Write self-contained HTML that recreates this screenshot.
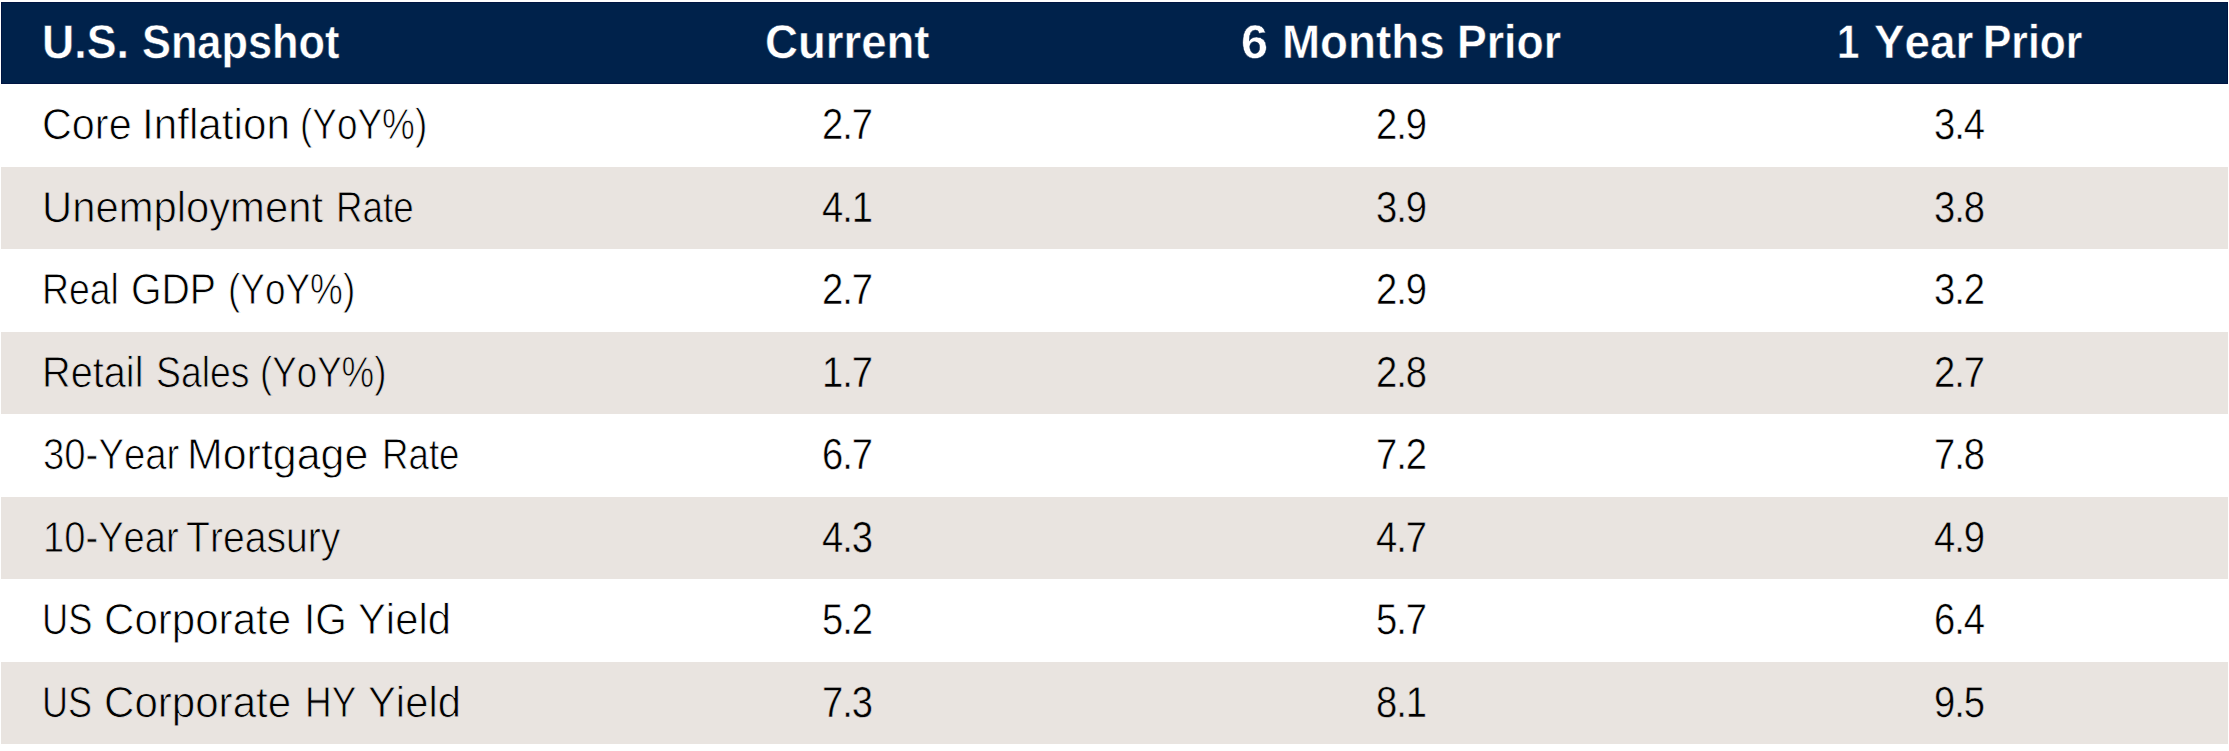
<!DOCTYPE html>
<html lang="en">
<head>
<meta charset="utf-8">
<title>U.S. Snapshot</title>
<style>
html,body{margin:0;padding:0;background:#fff;}
body{width:2229px;height:751px;overflow:hidden;position:relative;
  font-family:"Liberation Sans",sans-serif;font-kerning:none;font-variant-ligatures:none;
  text-rendering:geometricPrecision;}
.tbl{position:absolute;left:1px;top:0;width:2227px;height:751px;}
.row{position:absolute;left:0;width:2227px;}
.head{background:#00224b;box-shadow:inset 0 0 0 1px #001542;color:#fff;font-weight:700;font-size:47.4px;-webkit-text-stroke:0.5px #00224b;}
.odd{background:#fff;color:#000;font-size:43.3px;-webkit-text-stroke:0.8px #fff;}
.even{background:#e9e4e0;color:#000;font-size:43.3px;-webkit-text-stroke:0.8px #e9e4e0;}
.w{position:absolute;top:11px;white-space:nowrap;line-height:60px;height:60px;transform-origin:0 50%;}
.n{font-size:43.3px;letter-spacing:-1.2px;transform:scaleX(0.882);-webkit-text-stroke-width:0.5px;}
</style>
</head>
<body>
<div class="tbl" role="table" aria-label="U.S. Snapshot">
<div class="row head" role="row" style="top:2px;height:82px">
  <div role="columnheader"><span class="w" style="left:40.92px;transform:scaleX(0.942)">U.S.</span> <span class="w" style="left:141.05px;transform:scaleX(0.914)">Snapshot</span></div>
  <div role="columnheader"><span class="w" style="left:763.83px;transform:scaleX(0.961)">Current</span></div>
  <div role="columnheader"><span class="w" style="left:1239.92px;transform:scaleX(1.026)">6</span> <span class="w" style="left:1280.64px;transform:scaleX(0.965)">Months</span> <span class="w" style="left:1456.12px;transform:scaleX(0.940)">Prior</span></div>
  <div role="columnheader"><span class="w" style="left:1835.79px;transform:scaleX(0.850)">1</span> <span class="w" style="left:1872.62px;transform:scaleX(0.966)">Year</span> <span class="w" style="left:1982.15px;transform:scaleX(0.897)">Prior</span></div>
</div>
<div class="row odd" role="row" style="top:84px;height:83px">
  <div role="rowheader"><span class="w" style="left:40.65px;transform:scaleX(0.955)">Core</span> <span class="w" style="left:140.85px;transform:scaleX(0.975)">Inflation</span> <span class="w" style="left:298.96px;transform:scaleX(0.853)">(YoY%)</span></div>
  <div role="cell"><span class="w n" style="left:821.11px">2.7</span></div>
  <div role="cell"><span class="w n" style="left:1374.61px">2.9</span></div>
  <div role="cell"><span class="w n" style="left:1932.51px">3.4</span></div>
</div>
<div class="row even" role="row" style="top:167px;height:82px">
  <div role="rowheader"><span class="w" style="left:40.73px;transform:scaleX(0.965)">Unemployment</span> <span class="w" style="left:334.53px;transform:scaleX(0.850)">Rate</span></div>
  <div role="cell"><span class="w n" style="left:821.11px">4.1</span></div>
  <div role="cell"><span class="w n" style="left:1374.61px">3.9</span></div>
  <div role="cell"><span class="w n" style="left:1932.51px">3.8</span></div>
</div>
<div class="row odd" role="row" style="top:249px;height:83px">
  <div role="rowheader"><span class="w" style="left:41.08px;transform:scaleX(0.864)">Real</span> <span class="w" style="left:130.28px;transform:scaleX(0.906)">GDP</span> <span class="w" style="left:227.26px;transform:scaleX(0.853)">(YoY%)</span></div>
  <div role="cell"><span class="w n" style="left:821.11px">2.7</span></div>
  <div role="cell"><span class="w n" style="left:1374.61px">2.9</span></div>
  <div role="cell"><span class="w n" style="left:1932.51px">3.2</span></div>
</div>
<div class="row even" role="row" style="top:332px;height:82px">
  <div role="rowheader"><span class="w" style="left:40.89px;transform:scaleX(0.917)">Retail</span> <span class="w" style="left:154.76px;transform:scaleX(0.862)">Sales</span> <span class="w" style="left:259.17px;transform:scaleX(0.848)">(YoY%)</span></div>
  <div role="cell"><span class="w n" style="left:821.11px">1.7</span></div>
  <div role="cell"><span class="w n" style="left:1374.61px">2.8</span></div>
  <div role="cell"><span class="w n" style="left:1932.51px">2.7</span></div>
</div>
<div class="row odd" role="row" style="top:414px;height:83px">
  <div role="rowheader"><span class="w" style="left:41.89px;transform:scaleX(0.885)">30-Year</span> <span class="w" style="left:186.03px;transform:scaleX(0.991)">Mortgage</span> <span class="w" style="left:380.94px;transform:scaleX(0.847)">Rate</span></div>
  <div role="cell"><span class="w n" style="left:821.11px">6.7</span></div>
  <div role="cell"><span class="w n" style="left:1374.61px">7.2</span></div>
  <div role="cell"><span class="w n" style="left:1932.51px">7.8</span></div>
</div>
<div class="row even" role="row" style="top:497px;height:82px">
  <div role="rowheader"><span class="w" style="left:42.44px;transform:scaleX(0.881)">10-Year</span> <span class="w" style="left:184.67px;transform:scaleX(0.904)">Treasury</span></div>
  <div role="cell"><span class="w n" style="left:821.11px">4.3</span></div>
  <div role="cell"><span class="w n" style="left:1374.61px">4.7</span></div>
  <div role="cell"><span class="w n" style="left:1932.51px">4.9</span></div>
</div>
<div class="row odd" role="row" style="top:579px;height:83px">
  <div role="rowheader"><span class="w" style="left:40.55px;transform:scaleX(0.839)">US</span> <span class="w" style="left:103.21px;transform:scaleX(0.972)">Corporate</span> <span class="w" style="left:302.91px;transform:scaleX(0.936)">IG</span> <span class="w" style="left:356.83px;transform:scaleX(0.965)">Yield</span></div>
  <div role="cell"><span class="w n" style="left:821.11px">5.2</span></div>
  <div role="cell"><span class="w n" style="left:1374.61px">5.7</span></div>
  <div role="cell"><span class="w n" style="left:1932.51px">6.4</span></div>
</div>
<div class="row even" role="row" style="top:662px;height:82px">
  <div role="rowheader"><span class="w" style="left:40.97px;transform:scaleX(0.832)">US</span> <span class="w" style="left:103.21px;transform:scaleX(0.972)">Corporate</span> <span class="w" style="left:304.22px;transform:scaleX(0.852)">HY</span> <span class="w" style="left:366.93px;transform:scaleX(0.965)">Yield</span></div>
  <div role="cell"><span class="w n" style="left:821.11px">7.3</span></div>
  <div role="cell"><span class="w n" style="left:1374.61px">8.1</span></div>
  <div role="cell"><span class="w n" style="left:1932.51px">9.5</span></div>
</div>
</div>
</body>
</html>
